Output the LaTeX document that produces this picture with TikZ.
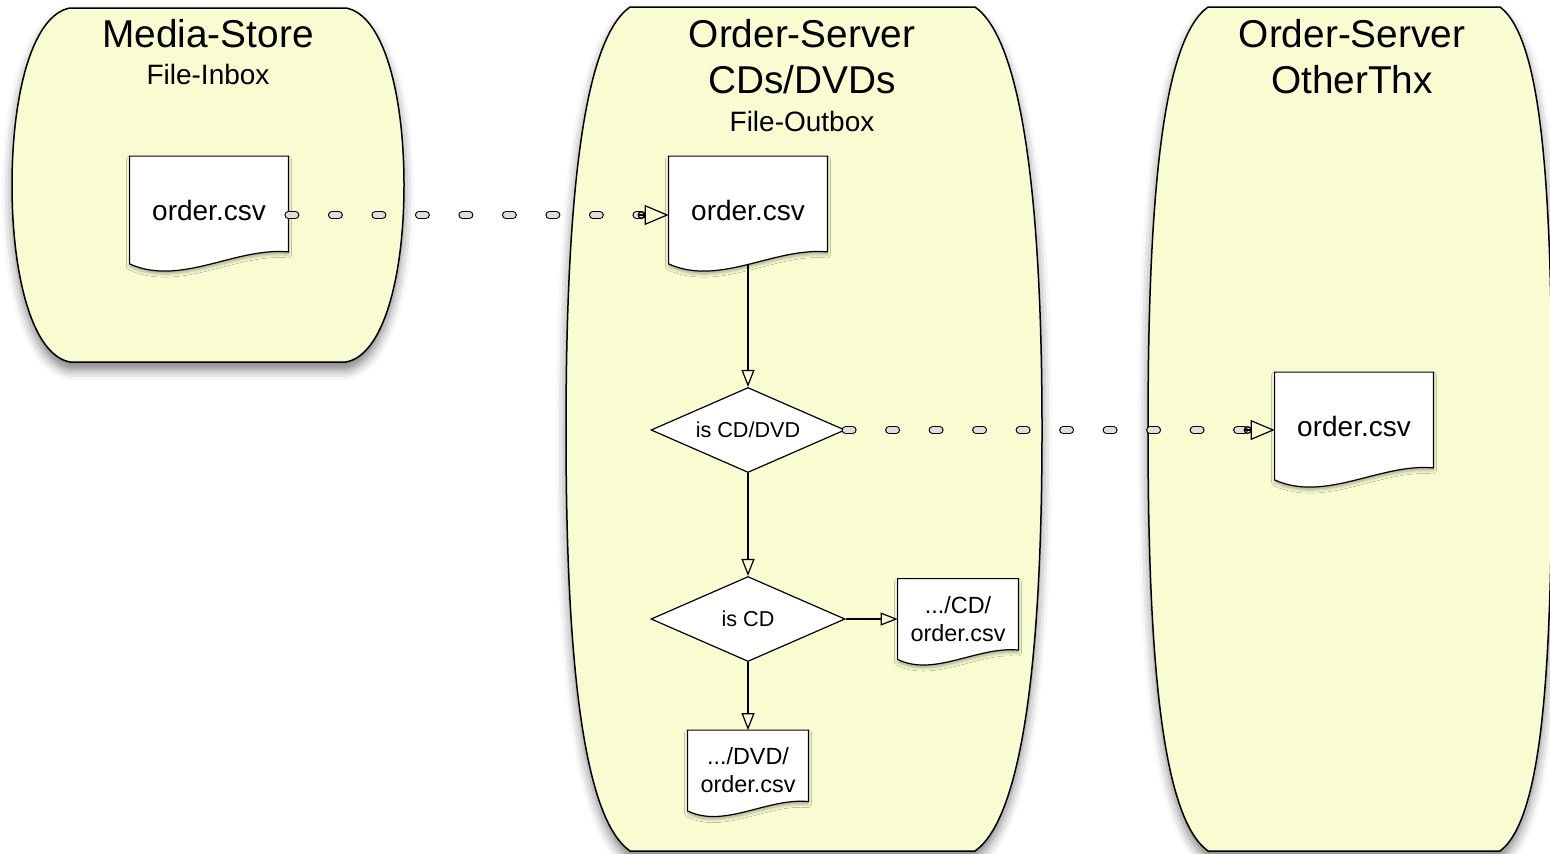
\documentclass[tikz,border=0pt]{standalone}
\usepackage{fontspec}
\setmainfont{Liberation Sans}
\usetikzlibrary{positioning}
\usetikzlibrary{arrows.meta}
\usetikzlibrary{shapes}
\usetikzlibrary{shadows.blur}
\definecolor{laneyellow}{RGB}{249,252,208}
\definecolor{dotgray}{RGB}{222,222,222}
\tikzset{
        treenode/.style={align=center,inner sep=0pt},
        % File frames (outline and text drawn afterwards)
        node_file/.style={treenode, rectangle, minimum width=79pt, minimum height=53.5pt},
        node_file_small/.style={node_file, minimum width=60pt, minimum height=40pt},
        % File outlines
        doc_outline/.style={draw=black, fill=white, line width=0.6pt, blur shadow={shadow xshift=0pt, shadow yshift=-1.5pt, shadow blur radius=1.5pt, shadow opacity=30}},
        % File texts
        file_text/.style={treenode, font=\fontsize{14}{16}\selectfont},
        file_text_small/.style={treenode, font=\fontsize{11.7}{14}\selectfont},
        % Decision nodes
        node_decision/.style={treenode, diamond, aspect=2.28, draw=black, fill=white, line width=0.6pt, font=\fontsize{10.8}{13}\selectfont, minimum width=97pt, minimum height=42.5pt},
        % Lane titles
        node_title/.style={treenode, font=\fontsize{19.4}{23}\selectfont},
        node_subtitle/.style={treenode, font=\fontsize{14}{16}\selectfont},
        % Lanes
        lane/.style={draw=black, line width=0.75pt, fill=laneyellow, blur shadow={shadow xshift=0pt, shadow yshift=-4pt, shadow blur radius=5pt, shadow opacity=50}},
        % Connectors
        flow/.style={-{Triangle[open, length=8.5pt, width=6.5pt]}, line width=0.6pt},
        copy_line/.style={line width=0.6pt, double=dotgray, double distance=2.8pt, line cap=round, dash pattern=on 3.5pt off 18.25pt, shorten >=14pt},
        copy_head/.style={-{Circle[open, length=4pt, sep=-0.5pt] Triangle[open, length=12pt, width=10pt]}, line width=0.6pt}
}

\begin{document}
\begin{tikzpicture}[x=0.5pt, y=-0.5pt]
    \useasboundingbox (0,0) rectangle (1550,853);
    % lanes
    \path[lane] (70,8) -- (346,8) .. controls (384,15) and (404,95) .. (404,185)
        .. controls (404,275) and (384,355) .. (346,362) -- (70,362)
        .. controls (32,355) and (12,275) .. (12,185) .. controls (12,95) and (32,15) .. (70,8) -- cycle;
    \path[lane] (630,7) -- (975,7) .. controls (1022,40) and (1042,200) .. (1042,430)
        .. controls (1042,660) and (1022,818) .. (975,851) -- (630,851)
        .. controls (583,818) and (566,660) .. (566,430) .. controls (566,200) and (583,40) .. (630,7) -- cycle;
    \path[lane] (1208,7) -- (1500,7) .. controls (1544,40) and (1552,200) .. (1552,430)
        .. controls (1552,660) and (1544,818) .. (1500,851) -- (1208,851)
        .. controls (1162,818) and (1148,660) .. (1148,430) .. controls (1148,200) and (1162,40) .. (1208,7) -- cycle;

    % Media-Store
    \node[node_title] (store_title) at (208,34) {Media-Store};
    \node[node_subtitle] (store_sub) at (208,74) {File-Inbox};
    \node[node_file] (inbox) at (209,210) {};

    % Order-Server CDs/DVDs
    \node[node_title] (cd_title) at (802,57) {Order-Server\\CDs/DVDs};
    \node[node_subtitle] (cd_sub) at (802,121) {File-Outbox};
    \node[node_file] (outbox) at (748,210) {};
    \node[node_decision] (is_cddvd) at (748,430) {is CD/DVD};
    \node[node_decision] (is_cd) at (748,619) {is CD};
    \node[node_file_small, right=26pt of is_cd] (cd_file) {};
    \node[node_file_small, below=34pt of is_cd] (dvd_file) {};

    % Order-Server OtherThx
    \node[node_title] (other_title) at (1352,57) {Order-Server\\OtherThx};
    \node[node_file] (other_file) at (1354,426) {};
    \coordinate (other_in) at (is_cddvd.east -| other_file.west);

    % file outlines
    \foreach \f/\s in {inbox/1, outbox/1, other_file/1, cd_file/0.78, dvd_file/0.78}
        \draw[doc_outline] (\f.north west) -- (\f.north east) -- ([shift={(0,-12*\s)}]\f.south east)
            .. controls ([shift={(-53*\s,-17*\s)}]\f.south east) and ([shift={(-108*\s,23*\s)}]\f.south east) .. (\f.south west) -- cycle;
    \node[file_text] (inbox_text) at (inbox) {order.csv};
    \node[file_text] (outbox_text) at (outbox) {order.csv};
    \node[file_text] (other_text) at (other_file) {order.csv};
    \node[file_text_small] (cd_text) at (cd_file) {.../CD/\\order.csv};
    \node[file_text_small] (dvd_text) at (dvd_file) {.../DVD/\\order.csv};

    % connectors
    \draw[flow] (outbox) -- (is_cddvd);
    \draw[flow] (is_cddvd) -- (is_cd);
    \draw[flow] (is_cd) -- (cd_file);
    \draw[flow] (is_cd) -- (dvd_file);
    \draw[copy_line] ([yshift=-2.5pt]inbox.east) -- ([yshift=-2.5pt]outbox.west);
    \draw[copy_head] ([shift={(-15pt,-2.5pt)}]outbox.west) -- ([yshift=-2.5pt]outbox.west);
    \draw[copy_line] (is_cddvd.east) -- (other_in);
    \draw[copy_head] ([xshift=-15pt]other_in) -- (other_in);
\end{tikzpicture}
\end{document}
